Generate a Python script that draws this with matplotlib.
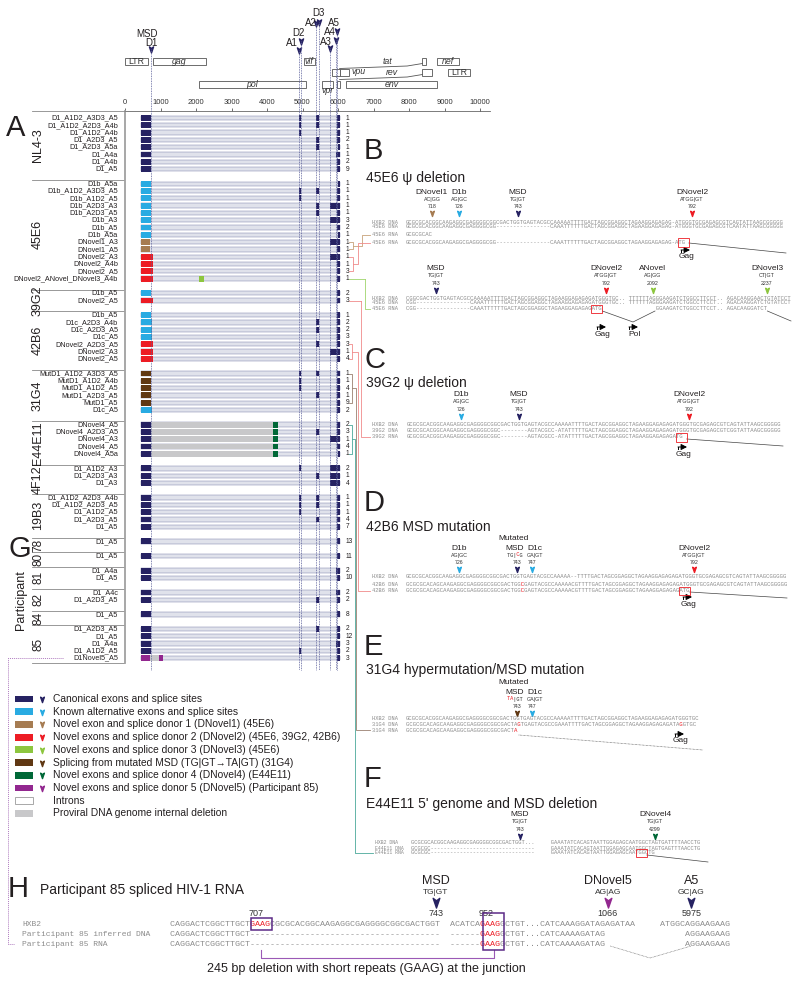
import matplotlib
matplotlib.use("Agg")
import matplotlib.pyplot as plt
from matplotlib.patches import Rectangle
from matplotlib.path import Path
from matplotlib.transforms import blended_transform_factory as blend

plt.rcParams["font.family"] = ["Liberation Sans", "DejaVu Sans"]
MONO = "Liberation Mono"

COL = {
    "canon": "#262262", "alt": "#29abe2", "nov1": "#a67c52", "nov2": "#ed1c24",
    "nov3": "#8dc63f", "mut": "#603813", "nov4": "#006837", "nov5": "#92278f",
    "del": "#c8c8ca", "intron": "#ffffff", "seq": "#8c8c8c", "text": "#231f20",
}

# ---------------------------------------------------------------------------
# Genome map (HXB2 coordinates)
# ---------------------------------------------------------------------------
GENE_LABELS = ["LTR", "gag", "vif", "", "nef", "", "vpu", "", "LTR", "pol", "vpr", "", "env"]
GENE_START = [1, 790, 5041, 8379, 8797, 5831, 6062, 8379, 9086, 2085, 5559, 5970, 6225]
GENE_END = [634, 2292, 5340, 8469, 9417, 6045, 6310, 8653, 9719, 5096, 5850, 6045, 8795]
GENE_ROW = [0, 0, 0, 0, 0, 1, 1, 1, 1, 2, 2, 2, 2]

SITE_NAMES = ["D1", "A1", "D2", "A2", "D3", "A3", "A4", "A5"]
SITE_POS = [743, 4913, 4962, 5390, 5463, 5777, 5954, 5975]

# exon building blocks
TSS, D4 = 455, 6045
DONOR_END = {"D1": 743, "D1b": 726, "D1c": 747, "DNovel1": 718, "DNovel2": 792,
             "MutD1": 743, "DNovel4": 743, "D1Novel5": 707}
DONOR_KIND = {"D1": "canon", "D1b": "alt", "D1c": "alt", "DNovel1": "nov1",
              "DNovel2": "nov2", "MutD1": "mut", "DNovel4": "canon", "D1Novel5": "nov5"}
INTERNAL = {"A1D2": (4913, 4962), "A2D3": (5390, 5463), "A3D3": (5390, 5463),
            "ANovel": (2092, 2237)}
ACCEPTOR = {"A3": 5777, "A4a": 5954, "A4b": 5960, "A4c": 5936, "A5": 5975, "A5a": 5990}
EXTRA = {"DNovel4": [(743, 4170, "del"), (4170, 4299, "nov4")],
         "D1Novel5": [(707, 952, "del"), (952, 1066, "nov5")]}

# ---------------------------------------------------------------------------
# Panel A isoforms and read counts
# ---------------------------------------------------------------------------
GROUPS = ["NL4-3", "45E6", "39G2", "42B6", "31G4", "E44E11", "4F12", "19B3",
          "78", "80", "81", "82", "84", "85"]
ISOFORMS = [
    ["D1_A1D2_A3D3_A5", "D1_A1D2_A2D3_A4b", "D1_A1D2_A4b", "D1_A2D3_A5",
     "D1_A2D3_A5a", "D1_A4a", "D1_A4b", "D1_A5"],
    ["D1b_A5a", "D1b_A1D2_A3D3_A5", "D1b_A1D2_A5", "D1b_A2D3_A3", "D1b_A2D3_A5",
     "D1b_A3", "D1b_A5", "D1b_A5a", "DNovel1_A3", "DNovel1_A5", "DNovel2_A3",
     "DNovel2_A4b", "DNovel2_A5", "DNovel2_ANovel_DNovel3_A4b"],
    ["D1b_A5", "DNovel2_A5"],
    ["D1b_A5", "D1c_A2D3_A4b", "D1c_A2D3_A5", "D1c_A5", "DNovel2_A2D3_A5",
     "DNovel2_A3", "DNovel2_A5"],
    ["MutD1_A1D2_A3D3_A5", "MutD1_A1D2_A4b", "MutD1_A1D2_A5", "MutD1_A2D3_A5",
     "MutD1_A5", "D1c_A5"],
    ["DNovel4_A5", "DNovel4_A2D3_A5", "DNovel4_A3", "DNovel4_A5", "DNovel4_A5a"],
    ["D1_A1D2_A3", "D1_A2D3_A3", "D1_A3"],
    ["D1_A1D2_A2D3_A4b", "D1_A1D2_A2D3_A5", "D1_A1D2_A5", "D1_A2D3_A5", "D1_A5"],
    ["D1_A5"], ["D1_A5"], ["D1_A4a", "D1_A5"], ["D1_A4c", "D1_A2D3_A5"], ["D1_A5"],
    ["D1_A2D3_A5", "D1_A5", "D1_A4a", "D1_A1D2_A5", "D1Novel5_A5"],
]
COUNTS = [
    [1, 1, 1, 2, 1, 1, 2, 9],
    [1, 1, 1, 1, 1, 3, 2, 1, 1, 1, 1, 1, 3, 1],
    [2, 3],
    [1, 2, 2, 3, 3, 1, 4],
    [1, 1, 4, 1, 9, 2],
    [2, 3, 1, 4, 1],
    [2, 1, 4],
    [1, 1, 1, 4, 7],
    [13], [11], [2, 10], [2, 2], [8],
    [2, 12, 3, 2, 3],
]

LEGEND_LABELS = [
    "Canonical exons and splice sites",
    "Known alternative exons and splice sites",
    "Novel exon and splice donor 1 (DNovel1) (45E6)",
    "Novel exons and splice donor 2 (DNovel2) (45E6, 39G2, 42B6)",
    "Novel exons and splice donor 3 (DNovel3) (45E6)",
    "Splicing from mutated MSD (TG|GT\u2192TA|GT) (31G4)",
    "Novel exons and splice donor 4 (DNovel4) (E44E11)",
    "Novel exons and splice donor 5 (DNovel5) (Participant 85)",
    "Introns",
    "Proviral DNA genome internal deletion",
]
LEGEND_KEYS = ["canon", "alt", "nov1", "nov2", "nov3", "mut", "nov4", "nov5", "intron", "del"]

# ---------------------------------------------------------------------------
# Sequence panels B-F, H
# ---------------------------------------------------------------------------
B1_LABELS = ["HXB2 DNA", "45E6 DNA", "45E6 RNA", "45E6 RNA"]
B1_SEQS = [
    "GCGCGCACGGCAAGAGGCGAGGGGCGGCGACTGGTGAGTACGCCAAAAATTTTGACTAGCGGAGGCTAGAAGGAGAGAG-ATGGGTGCGAGAGCGTCAGTATTAAGCGGGGG",
    "GCGCGCACGGCAAGAGGCGAGGGGCGG----------------CAAATTTTTTGACTAGCGGAGGCTAGAAGGAGAGAG-ATGGGTGCGAGAGCGTCAATATTAAGCGGGGG",
    "GCGCGCAC",
    "GCGCGCACGGCAAGAGGCGAGGGGCGG----------------CAAATTTTTTGACTAGCGGAGGCTAGAAGGAGAGAG-ATG",
]
B1_SITES = [("DNovel1", "AC|GG", "718", "nov1"), ("D1b", "AG|GC", "726", "alt"),
            ("MSD", "TG|GT", "743", "canon"), ("DNovel2", "ATGG|GT", "792", "nov2")]

B2_LABELS = ["HXB2 DNA", "45E6 DNA", "45E6 RNA"]
B2_SEQS = [
    "CGGCGACTGGTGAGTACGCCAAAAATTTTGACTAGCGGAGGCTAGAAGGAGAGAGATGGGTGC.. TTTTTTAGGGAAGATCTGGCCTTCCT.. AGACAAGGAACTGTATCCT",
    "CGG----------------CAAATTTTTTGACTAGCGGAGGCTAGAAGGAGAGAGATGGGTGC.. TTTTTTAGGGAAGATCTGGCCTTCCT.. AGACAAGGATCTGTATCCT",
    "CGG----------------CAAATTTTTTGACTAGCGGAGGCTAGAAGGAGAGAGATG                GGAAGATCTGGCCTTCCT.. AGACAAGGATCT",
]
B2_SITES = [("MSD", "TG|GT", "743", "canon"), ("DNovel2", "ATGG|GT", "792", "nov2"),
            ("ANovel", "AG|GG", "2092", "nov3"), ("DNovel3", "CT|GT", "2237", "nov3")]

C_LABELS = ["HXB2 DNA", "39G2 DNA", "39G2 RNA"]
C_SEQS = [
    "GCGCGCACGGCAAGAGGCGAGGGGCGGCGACTGGTGAGTACGCCAAAAATTTTGACTAGCGGAGGCTAGAAGGAGAGAGATGGGTGCGAGAGCGTCAGTATTAAGCGGGGG",
    "GCGCGCACGGCAAGAGGCGAGGGGCGGC--------AGTACGCC-ATATTTTTGACTAGCGGAGGCTAGAAGGAGAGAGATGGGTGCGAGAGCGTCGGTATTAAGCGGGGG",
    "GCGCGCACGGCAAGAGGCGAGGGGCGGC--------AGTACGCC-ATATTTTTGACTAGCGGAGGCTAGAAGGAGAGAGATG",
]
C_SITES = [("D1b", "AG|GC", "726", "alt"), ("MSD", "TG|GT", "743", "canon"),
           ("DNovel2", "ATGG|GT", "792", "nov2")]

D_LABELS = ["HXB2 DNA", "42B6 DNA", "42B6 RNA"]
D_SEQS = [
    "GCGCGCACGGCAAGAGGCGAGGGGCGGCGACTGGTGAGTACGCCAAAAA--TTTTGACTAGCGGAGGCTAGAAGGAGAGAGATGGGTGCGAGAGCGTCAGTATTAAGCGGGGG",
    "GCGCGCACAGCAAGAGGCGAGGGGCGGCGACTGGCGAGTACGCCAAAAACGTTTTGACTAGCGGAGGCTAGAAGGAGAGAGATGGGTGCGAGAGCGTCAGTATTAAGCGGGGG",
    "GCGCGCACAGCAAGAGGCGAGGGGCGGCGACTGGCGAGTACGCCAAAAACGTTTTGACTAGCGGAGGCTAGAAGGAGAGAGATG",
]
D_SITES = [("D1b", "AG|GC", "726", "alt"), ("MSD", "TG|CG", "743", "canon"),
           ("D1c", "GA|GT", "747", "alt"), ("DNovel2", "ATGG|GT", "792", "nov2")]

E_LABELS = ["HXB2 DNA", "31G4 DNA", "31G4 RNA"]
E_SEQS = [
    "GCGCGCACGGCAAGAGGCGAGGGGCGGCGACTGGTGAGTACGCCAAAAATTTTGACTAGCGGAGGCTAGAAGGAGAGAGATGGGTGC",
    "GCGCGCACAGCAAGAGGCGAGGGGCGGCGACTAGTGAGTACGCCGAAATTTTGACTAGCGGAGGCTAGAAGGAGAGAGATAGGTGC",
    "GCGCGCACAGCAAGAGGCGAGGGGCGGCGACTA",
]
E_SITES = [("MSD", "TA|GT", "743", "mut"), ("D1c", "GA|GT", "747", "alt")]

F_LABELS = ["HXB2 DNA", "E44E11 DNA", "E44E11 RNA"]
F_SEQS = [
    "GCGCGCACGGCAAGAGGCGAGGGGCGGCGACTGGT...     GAAATATCACAGTAATTGGAGAGCAATGGCTAGTGATTTTAACCTG",
    "GCGCGC--------------------------------     GAAATATCACAGTAATTGGAGAGCAATGGCTAGTGAGTTTAACCTG",
    "GCGCGC--------------------------------     GAAATATCACAGTAATTGGAGAGCAATGGCTG",
]
F_SITES = [("MSD", "TG|GT", "743", "canon"), ("DNovel4", "TG|GT", "4299", "nov4")]

H_LABELS = ["HXB2", "Participant 85 inferred DNA", "Participant 85 RNA"]
H_SEQS = [
    "CAGGACTCGGCTTGCTGAAGCGCGCACGGCAAGAGGCGAGGGGCGGCGACTGGT  ACATCAGAAGGCTGT...CATCAAAGGATAGAGATAA     ATGGCAGGAAGAAG",
    "CAGGACTCGGCTTGCT--------------------------------------  ------GAAGGCTGT...CATCAAAAGATAG                AGGAAGAAG",
    "CAGGACTCGGCTTGCT--------------------------------------  ------GAAGGCTGT...CATCAAAAGATAG                AGGAAGAAG",
]
H_SITES = [("MSD", "TG|GT", "743", "canon"), ("DNovel5", "AG|AG", "1066", "nov5"),
           ("A5", "GC|AG", "5975", "canon")]
H_POSITIONS = ["707", "952"]

# ---------------------------------------------------------------------------
# Figure scaffolding (all layout in pixels of the 800x985 canvas)
# ---------------------------------------------------------------------------
ARROW = Path([(0, -1), (-0.6, 0.75), (0, 0.3), (0.6, 0.75), (0, -1)],
             [Path.MOVETO, Path.LINETO, Path.LINETO, Path.LINETO, Path.CLOSEPOLY])

W, H = 800, 985
fig = plt.figure(figsize=(W / 100, H / 100), dpi=100)


def px_axes(x0, y0, x1, y1):
    return fig.add_axes([x0 / W, 1 - y1 / H, (x1 - x0) / W, (y1 - y0) / H])


ROW0, PITCH = 118, 7.3
ax_map = px_axes(125, 0, 480, 111)
ax_a = px_axes(125, 111, 480, 670)
ov = px_axes(0, 0, W, H)
ax_map.set_xlim(0, 10000)
ax_map.set_ylim(111, 0)
ax_map.axis("off")
ax_a.set_xlim(0, 10000)
ax_a.set_ylim((670 - ROW0) / PITCH, (111 - ROW0) / PITCH)
ov.set_xlim(0, W)
ov.set_ylim(H, 0)
ov.axis("off")

tr_lab = blend(ov.transData, ax_a.transData)    # x in px, y in row slots
tr_site = blend(ax_a.transData, ov.transData)   # x in bp, y in px


def ry(slot):
    return ROW0 + PITCH * slot


# --- genome axis ------------------------------------------------------------
for s in ["left", "right", "bottom"]:
    ax_a.spines[s].set_visible(False)
ax_a.spines["top"].set_color("#666666")
ax_a.spines["top"].set_linewidth(0.6)
ax_a.xaxis.set_ticks_position("top")
ax_a.set_xticks(range(0, 10001, 1000))
ax_a.tick_params(axis="x", direction="out", length=2, width=0.5, labelsize=5.5,
                 pad=1.5, colors="#333333")
ax_a.set_yticks([])
ov.plot([480, 490], [111, 111], color="#666666", lw=0.6)

# --- genome map -------------------------------------------------------------
ROW_Y = [61, 72, 84]
for lab, a, b, r in zip(GENE_LABELS, GENE_START, GENE_END, GENE_ROW):
    y = ROW_Y[r]
    ax_map.add_patch(Rectangle((a, y - 3.5), b - a, 7, fc="white", ec="#555555", lw=0.6))
    if not lab:
        continue
    style = "normal" if lab == "LTR" else "italic"
    if lab == "vpu":
        ax_map.text(b + 80, y, lab, fontsize=6.3, style=style, va="center", ha="left", color="#333")
    elif lab == "vpr":
        ax_map.text((a + b) / 2, y + 6.5, lab, fontsize=6.3, style=style, va="center", ha="center", color="#333")
    else:
        ax_map.text((a + b) / 2, y + 0.3, lab, fontsize=6.3, style=style, va="center", ha="center", color="#333")
ax_map.plot([6045, 7950, 8379], [68.5, 66, 63.5], color="#555", lw=0.6)
ax_map.plot([6045, 7950, 8379], [79.5, 77, 74.5], color="#555", lw=0.6)
ax_map.text(7400, 61, "tat", fontsize=6.3, style="italic", ha="center", va="center", color="#333")
ax_map.text(7520, 72.5, "rev", fontsize=6.3, style="italic", ha="center", va="center", color="#333")

SITE_MARK_Y = [49, 50, 41, 23, 22, 48, 40, 31]
SITE_LABEL_PX = [(151, 43), (292, 43), (298, 33), (311, 23), (318, 13), (326, 42), (330, 32), (334, 23)]
for name, pos, my, (lx, ly) in zip(SITE_NAMES, SITE_POS, SITE_MARK_Y, SITE_LABEL_PX):
    ax_map.plot(pos, my, marker=ARROW, ms=5, color=COL["canon"], zorder=5)
    ov.text(lx, ly, name, fontsize=7, ha="center", va="center", color=COL["text"])
    ax_a.plot([pos, pos], [my, 670], transform=tr_site, ls=(0, (1, 1)), lw=0.6,
              color="#5a5f9a", clip_on=False, zorder=4)
ov.text(147, 34, "MSD", fontsize=7, ha="center", va="center", color=COL["text"])

# --- panel A rows -------------------------------------------------------------
slot = 0
group_slots = []
for g, (rows, counts) in enumerate(zip(ISOFORMS, COUNTS)):
    slots = []
    for label, n in zip(rows, counts):
        toks = label.split("_")
        exons = [(TSS, DONOR_END[toks[0]], DONOR_KIND[toks[0]])]
        exons += EXTRA.get(toks[0], [])
        for t in toks[1:-1]:
            if t in INTERNAL:
                a, b = INTERNAL[t]
                exons.append((a, b, "nov3" if t == "ANovel" else "canon"))
        exons.append((ACCEPTOR[toks[-1]], D4, "canon"))
        ax_a.add_patch(Rectangle((TSS, slot - 0.3), D4 - TSS, 0.6, fc="#e0e2eb",
                                 ec="#7c82aa", lw=0.35, zorder=2))
        for a, b, kind in exons:
            ax_a.add_patch(Rectangle((a, slot - 0.4), b - a, 0.8, fc=COL[kind],
                                     ec="none", zorder=3))
        ax_a.text(118, slot, label, transform=tr_lab, fontsize=5.2, ha="right",
                  va="center", color=COL["text"])
        ax_a.text(6220, slot, str(n), fontsize=4.8, ha="left", va="center",
                  color=COL["text"], clip_on=False)
        slots.append(slot)
        slot += 1
    group_slots.append(slots)
    slot += 1

last = group_slots[-1][-1]
ov.plot([32, 125], [111, 111], color="#888", lw=0.6)
for g, slots in enumerate(group_slots):
    bottom = group_slots[g + 1][0] - 0.5 if g + 1 < len(group_slots) else last + 0.65
    ax_a.plot([32, 124], [bottom, bottom], transform=tr_lab, color="#888", lw=0.6, clip_on=False)
    top = slots[0] - 1 if g == 0 else slots[0] - 0.5
    ax_a.text(38, (top + bottom) / 2, GROUPS[g], transform=tr_lab, rotation=90,
              fontsize=9 if len(GROUPS[g]) > 2 else 8.5, ha="center", va="center",
              color=COL["text"])
ax_a.plot([124.5, 124.5], [-0.96, last + 0.65], transform=tr_lab, color="#a0a0a0",
          lw=1.3, clip_on=False)

ov.text(6, 128, "A", fontsize=21, ha="left", va="center", color=COL["text"])
ov.text(9, 549, "G", fontsize=21, ha="left", va="center", color=COL["text"])
ov.text(21, 600, "Participant", fontsize=9, rotation=90, ha="center", va="center", color=COL["text"])

# --- connectors from panel A to the sequence panels ---------------------------
s45 = group_slots[1]
conn = [
    ("#c8a27a", [(349, ry(s45[8])), (353, ry(s45[8])), (353, ry(s45[9])), (349, ry(s45[9]))],
     [(353, ry(s45[8]) + 3.5), (362, ry(s45[8]) + 3.5), (362, 235), (370, 235)]),
    ("#f08a8a", [(349, ry(s45[10])), (353, ry(s45[10])), (353, ry(s45[12])), (349, ry(s45[12]))],
     [(353, ry(s45[11])), (358, ry(s45[11])), (358, 243), (370, 243)]),
    ("#9fd46b", [(349, ry(s45[13])), (365, ry(s45[13]))],
     [(365, ry(s45[13])), (365, 309), (370, 309)]),
    ("#f08a8a", [(349, ry(group_slots[2][1])), (361, ry(group_slots[2][1]))],
     [(361, ry(group_slots[2][1])), (361, 437), (370, 437)]),
    ("#f08a8a", [(349, ry(group_slots[3][4])), (352, ry(group_slots[3][4])),
                 (352, ry(group_slots[3][6])), (349, ry(group_slots[3][6]))],
     [(352, ry(group_slots[3][5])), (358, ry(group_slots[3][5])), (358, 591), (370, 591)]),
    ("#9a8070", [(349, ry(group_slots[4][0])), (352, ry(group_slots[4][0])),
                 (352, ry(group_slots[4][4])), (349, ry(group_slots[4][4]))],
     [(352, ry(group_slots[4][2])), (356, ry(group_slots[4][2])), (356, 730), (370, 730)]),
    ("#4aa89a", [(349, ry(group_slots[5][0])), (352, ry(group_slots[5][0])),
                 (352, ry(group_slots[5][4])), (349, ry(group_slots[5][4]))],
     [(352, ry(group_slots[5][2])), (355, ry(group_slots[5][2])), (355, 853), (373, 853)]),
]
for color, bracket, path in conn:
    ov.plot(*zip(*bracket), color=color, lw=0.6)
    ov.plot(*zip(*path), color=color, lw=0.6)
ov.plot([63, 8, 8, 14], [ry(last), ry(last), 944, 944], color="#b07cc0", lw=0.7, ls=(0, (1, 1)))

# --- legend -------------------------------------------------------------------
for i, (lab, key) in enumerate(zip(LEGEND_LABELS, LEGEND_KEYS)):
    y = 699 + 12.7 * i
    ov.add_patch(Rectangle((15, y - 3.4), 18, 6.8, fc=COL[key],
                           ec="#9a9a9a" if key == "intron" else "none", lw=0.6))
    if i < 8:
        ov.plot(42, y, marker=ARROW, ms=4.5, color=COL[key])
    ov.text(53, y, lab, fontsize=7.4, ha="left", va="center", color=COL["text"])


# --- helpers for sequence panels ---------------------------------------------
def mono_text(x, y, s, red, fs, color):
    base = "".join(" " if i in red else c for i, c in enumerate(s))
    ov.text(x, y, base, family=MONO, fontsize=fs, color=color, ha="left", va="center")
    if red:
        hi = "".join(c if i in red else " " for i, c in enumerate(s))
        ov.text(x, y, hi, family=MONO, fontsize=fs, color=COL["nov2"], ha="left", va="center")


def seq_block(x0, x1, ys, labels, seqs, label_x=372, red=None, lab_fs=None):
    p = (x1 - x0) / max(len(s) for s in seqs)
    fs = p / 0.6 * 72 / 100
    red = red or {}
    for i, (y, lab, s) in enumerate(zip(ys, labels, seqs)):
        ov.text(label_x, y, lab, family=MONO, fontsize=lab_fs or fs * 0.95,
                color=COL["seq"], ha="left", va="center")
        mono_text(x0, y, s, set(red.get(i, ())), fs, COL["seq"])
    return p


def box(x0, p, idx, n, y0, y1, color=COL["nov2"], lw=0.6):
    ov.add_patch(Rectangle((x0 + idx * p - 0.4, y0), n * p + 0.8, y1 - y0,
                           fc="none", ec=color, lw=lw, zorder=6))


def sites(xs, y, specs, name_xs=None, red=None, fs_name=6, fs_small=3.8, ms=4.3):
    red = red or {}
    for k, ((name, motif, num, kind), x) in enumerate(zip(specs, xs)):
        nx = name_xs[k] if name_xs else x
        ov.text(nx, y, name, fontsize=fs_name, ha="center", va="center", color=COL["text"])
        if k in red:
            w = len(motif) * fs_small * 100 / 72 * 0.6
            mono_text(nx - w / 2, y + 7, motif, set(red[k]), fs_small, "#333")
        else:
            ov.text(nx, y + 7, motif, fontsize=fs_small, ha="center", va="center", color="#333")
        ov.text(x, y + 14.5, num, fontsize=fs_small, ha="center", va="center", color="#333")
        ov.plot(x, y + 21, marker=ARROW, ms=ms, color=COL[kind])


def start_arrow(x, y, name):
    ov.annotate("", xy=(x + 9, y), xytext=(x, y),
                arrowprops=dict(arrowstyle="-|>,head_length=0.35,head_width=0.18",
                                color="black", lw=0.7, shrinkA=0, shrinkB=0))
    ov.plot([x, x], [y, y + 2], color="black", lw=0.7)
    ov.text(x + 6, y + 7, name, fontsize=6, ha="center", va="center", color=COL["text"])


def panel_head(letter, ly, title, ty):
    ov.text(364, ly, letter, fontsize=21, ha="left", va="center", color=COL["text"])
    ov.text(366, ty, title, fontsize=10, ha="left", va="center", color=COL["text"])


# --- B ------------------------------------------------------------------------
panel_head("B", 151, "45E6 \u03c8 deletion", 178)
sites([432, 459, 518, 692], 192, B1_SITES)
p = seq_block(406, 787, [222, 227, 235, 243], B1_LABELS, B1_SEQS)
box(406, p, 80, 3, 238, 247)
ov.plot([406 + 83 * p + 0.5, 786], [243, 253], color="#444", lw=0.5)
start_arrow(681, 250, "Gag")

sites([436, 606, 653, 767], 269, B2_SITES)
p = seq_block(406, 791, [298, 303, 309], B2_LABELS, B2_SEQS)
box(406, p, 55, 3, 305, 313)
ov.plot([406 + 58 * p + 0.5, 633, 655], [311, 322, 311], color="#444", lw=0.5)
ov.plot([406 + 107 * p, 791], [311, 321], color="#444", lw=0.5)
start_arrow(597, 327, "Gag")
start_arrow(629, 327, "Pol")

# --- C ------------------------------------------------------------------------
panel_head("C", 360, "39G2 \u03c8 deletion", 383)
sites([461, 519, 689], 395, C_SITES)
p = seq_block(407, 785, [425, 431, 437], C_LABELS, C_SEQS)
box(407, p, 79, 3, 433, 442)
ov.plot([407 + 82 * p + 0.5, 783], [439, 446], color="#444", lw=0.5)
start_arrow(678, 447, "Gag")

# --- D ------------------------------------------------------------------------
panel_head("D", 503, "42B6 MSD mutation", 527)
ov.text(514, 538, "Mutated", fontsize=6, ha="center", va="center", color=COL["text"])
sites([459, 517, 532, 694], 548, D_SITES, name_xs=[459, 515, 535, 694], red={1: [3]})
p = seq_block(406, 787, [577, 584, 591], D_LABELS, D_SEQS, red={1: [34], 2: [34]})
box(406, p, 81, 3, 587, 595)
ov.plot([406 + 84 * p + 0.5, 787], [592, 598], color="#444", lw=0.5)
start_arrow(683, 597, "Gag")

# --- E ------------------------------------------------------------------------
panel_head("E", 647, "31G4 hypermutation/MSD mutation", 670)
ov.text(514, 682, "Mutated", fontsize=6, ha="center", va="center", color=COL["text"])
sites([517, 532], 692, E_SITES, name_xs=[515, 535], red={0: [0, 1]})
p = seq_block(406, 703, [719, 724, 730], E_LABELS, E_SEQS, red={1: [33, 81], 2: [32, 33]})
ov.plot([406 + 33 * p, 703], [735, 750], color="#555", lw=0.5, ls=(0, (1, 1)))
start_arrow(675, 734, "Gag")

# --- F ------------------------------------------------------------------------
panel_head("F", 779, "E44E11 5' genome and MSD deletion", 804)
sites([520, 655], 815, F_SITES)
p = seq_block(411, 706, [842, 848, 853], F_LABELS, F_SEQS, label_x=375, lab_fs=3.5)
box(411, p, 68, 3, 849, 857)
ov.plot([411 + 71 * p + 0.5, 708], [855, 862], color="#444", lw=0.5)

# --- H ------------------------------------------------------------------------
ov.text(8, 889, "H", fontsize=21, ha="left", va="center", color=COL["text"])
ov.text(40, 890, "Participant 85 spliced HIV-1 RNA", fontsize=10, ha="left",
        va="center", color=COL["text"])
HX0, HX1 = 170, 736.7
hp = (HX1 - HX0) / len(H_SEQS[0])
h_idx = [52.5, 86.5, 103]
for (name, motif, num, kind), i in zip(H_SITES, h_idx):
    x = HX0 + i * hp
    ov.text(x, 881, name, fontsize=9, ha="center", va="center", color=COL["text"])
    ov.text(x, 892, motif, fontsize=6, ha="center", va="center", color="#333")
    ov.plot(x, 902, marker=ARROW, ms=8, color=COL[kind])
    ov.text(x, 914, num, fontsize=6.5, ha="center", va="center", color="#333")
for num, i in zip(H_POSITIONS, [17, 62.5]):
    ov.text(HX0 + i * hp, 914, num, fontsize=6.5, ha="center", va="center", color="#333")
seq_block(HX0, HX1, [924, 934, 944], H_LABELS, H_SEQS, label_x=22,
          red={0: [16, 17, 18, 19, 62, 63, 64, 65], 1: [62, 63, 64, 65], 2: [62, 63, 64, 65]})
box(HX0, hp, 16, 4, 918, 930, color="#5b2a86", lw=1.1)
box(HX0, hp, 62, 4, 913, 950, color="#5b2a86", lw=1.1)
ov.plot([HX0 + 18 * hp, HX0 + 18 * hp, HX0 + 64 * hp, HX0 + 64 * hp], [950, 958, 958, 950],
        color="#9b59b6", lw=0.8)
ov.plot([HX0 + 87 * hp, 650, HX0 + 103 * hp], [946, 958, 946], color="#666", lw=0.5, ls=(0, (1, 1)))
ov.text(366, 969, "245 bp deletion with short repeats (GAAG) at the junction",
        fontsize=9, ha="center", va="center", color=COL["text"])

fig.savefig("out.png", dpi=100, facecolor="white")
